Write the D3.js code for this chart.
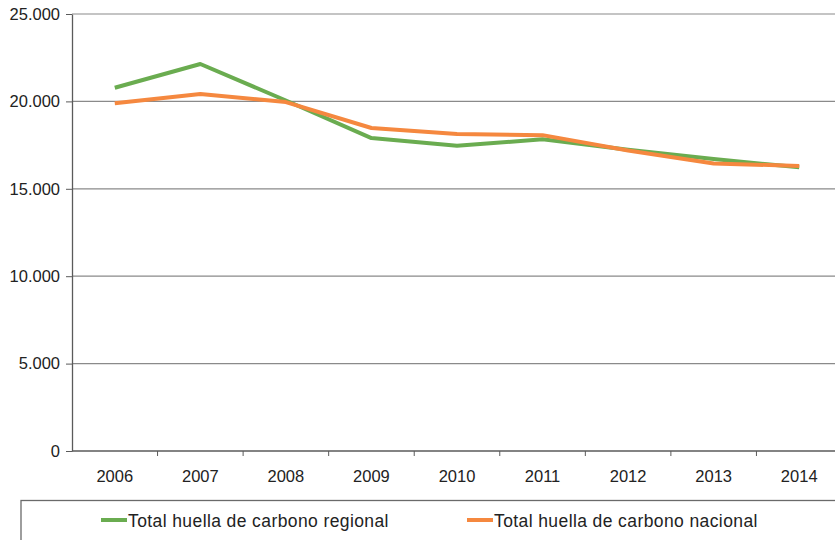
<!DOCTYPE html>
<html>
<head>
<meta charset="utf-8">
<script src="https://cdn.jsdelivr.net/npm/d3@7"></script>
<style>
  html, body { margin: 0; padding: 0; background: #fff; }
  svg { display: block; font-family: "Liberation Sans", Arial, sans-serif; }
</style>
</head>
<body>
<svg id="chart" width="835" height="540"></svg>
<script>
// Carbon footprint totals by year
const years = ["2006", "2007", "2008", "2009", "2010", "2011", "2012", "2013", "2014"];
const regional = [20780, 22140, 20050, 17900, 17460, 17830, 17230, 16700, 16230];
const nacional = [19890, 20420, 19960, 18480, 18130, 18070, 17190, 16450, 16310];
const yTicks = [0, 5000, 10000, 15000, 20000, 25000];
const seriesNames = ["Total huella de carbono regional", "Total huella de carbono nacional"];
const seriesColors = ["#6aac50", "#f5883f"];

const svg = d3.select("#chart");
const plotLeft = 72, plotRight = 842, plotTop = 14, plotBottom = 451;

const x = d3.scaleBand().domain(years).range([plotLeft, plotRight]);
const y = d3.scaleLinear().domain([0, 25000]).range([plotBottom, plotTop]);

const fmt = v => d3.format(",")(v).replace(/,/g, ".");

// horizontal grid lines
svg.append("g")
  .selectAll("line")
  .data(yTicks.filter(t => t > 0))
  .join("line")
  .attr("x1", plotLeft).attr("x2", plotRight)
  .attr("y1", d => y(d)).attr("y2", d => y(d))
  .attr("stroke", "#8a8a8a").attr("stroke-width", 1.2);

// y axis
const yAxis = svg.append("g")
  .attr("transform", `translate(${plotLeft},0)`)
  .call(d3.axisLeft(y).tickValues(yTicks).tickFormat(fmt).tickSize(6).tickSizeOuter(0));
yAxis.select(".domain").attr("stroke", "#5a5a5a").attr("stroke-width", 1.3);
yAxis.selectAll(".tick line").attr("stroke", "#5a5a5a");
yAxis.selectAll(".tick text")
  .attr("x", -12)
  .attr("font-size", 16.5).attr("fill", "#222")
  .attr("font-family", "Liberation Sans, Arial, sans-serif");

// x axis with ticks at category boundaries
const xAxis = svg.append("g")
  .attr("transform", `translate(0,${plotBottom})`);
xAxis.append("line")
  .attr("x1", plotLeft).attr("x2", plotRight)
  .attr("stroke", "#5a5a5a").attr("stroke-width", 1.6);
xAxis.selectAll("line.bound")
  .data(years.slice(1))
  .join("line")
  .attr("class", "bound")
  .attr("x1", d => x(d)).attr("x2", d => x(d))
  .attr("y1", 0).attr("y2", 5)
  .attr("stroke", "#5a5a5a");
xAxis.selectAll("text")
  .data(years)
  .join("text")
  .attr("x", d => x(d) + x.bandwidth() / 2)
  .attr("y", 31)
  .attr("text-anchor", "middle")
  .attr("font-size", 16.5).attr("fill", "#222")
  .text(d => d);

// series lines
const line = d3.line()
  .x((d, i) => x(years[i]) + x.bandwidth() / 2)
  .y(d => y(d));

[regional, nacional].forEach((vals, k) => {
  svg.append("path")
    .datum(vals)
    .attr("d", line)
    .attr("fill", "none")
    .attr("stroke", seriesColors[k])
    .attr("stroke-width", 4)
    .attr("stroke-linejoin", "round");
});

// legend box
svg.append("rect")
  .attr("x", 21).attr("y", 500.5)
  .attr("width", 830).attr("height", 60)
  .attr("fill", "none")
  .attr("stroke", "#6a6a6a").attr("stroke-width", 1.3);

const legendX = [101, 467];
seriesNames.forEach((name, k) => {
  const g = svg.append("g").attr("transform", `translate(${legendX[k]},520)`);
  g.append("line")
    .attr("x1", 0).attr("x2", 26)
    .attr("stroke", seriesColors[k]).attr("stroke-width", 4);
  g.append("text")
    .attr("x", 27).attr("y", 7)
    .attr("font-size", 17.5).attr("fill", "#222")
    .attr("letter-spacing", 0.4)
    .text(name);
});
</script>
</body>
</html>
